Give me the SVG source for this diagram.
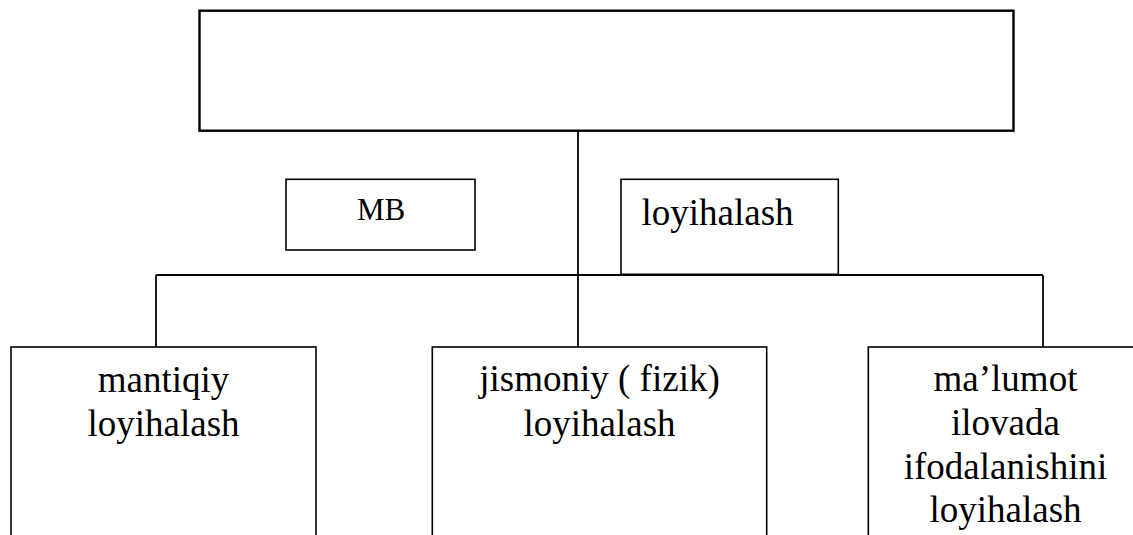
<svg xmlns="http://www.w3.org/2000/svg" width="1133" height="535" viewBox="0 0 1133 535">
<style>
.box{fill:#fff;stroke:#000;stroke-width:1.6}
.top{fill:#fff;stroke:#000;stroke-width:2.4}
.ln{fill:none;stroke:#000;stroke-width:1.8}
.t{font-family:'Liberation Serif','Times New Roman','DejaVu Serif',serif;font-size:37px;fill:#000;text-anchor:middle}
.s{font-size:31px}
</style>
<rect width="1133" height="535" fill="#fff"/>
<g id="connectors">
<path class="ln" d="M578 131V347"/>
<path class="ln" d="M156 275H1043"/>
<path class="ln" d="M156 275V347"/>
<path class="ln" d="M1043 275V347"/>
</g>
<g id="top-box"><rect class="top" x="199.5" y="10.7" width="814" height="120"/></g>
<g id="mb-box"><rect class="box" x="286" y="179.3" width="189" height="70.7"/><text class="t s" font-family="Liberation Serif, serif" x="381" y="220">MB</text></g>
<g id="loyihalash-box"><rect class="box" x="621" y="179.3" width="217.3" height="95"/><text class="t" font-family="Liberation Serif, serif" x="717.5" y="225">loyihalash</text></g>
<g id="mantiqiy"><rect class="box" x="11" y="347" width="305" height="200"/><text class="t" font-family="Liberation Serif, serif" x="163.5" y="391.5">mantiqiy</text><text class="t" font-family="Liberation Serif, serif" x="163.5" y="435.5">loyihalash</text></g>
<g id="jismoniy"><rect class="box" x="432.3" y="347" width="334.4" height="200"/><text class="t" font-family="Liberation Serif, serif" x="599.5" y="390.5">jismoniy ( fizik)</text><text class="t" font-family="Liberation Serif, serif" x="599.5" y="435.5">loyihalash</text></g>
<g id="malumot"><rect class="box" x="868.3" y="347" width="280" height="200"/><text class="t" font-family="Liberation Serif, serif" x="1005.5" y="391">ma’lumot</text><text class="t" font-family="Liberation Serif, serif" x="1005.5" y="435">ilovada</text><text class="t" font-family="Liberation Serif, serif" x="1005.5" y="478.5">ifodalanishini</text><text class="t" font-family="Liberation Serif, serif" x="1005.5" y="522">loyihalash</text></g>
</svg>
